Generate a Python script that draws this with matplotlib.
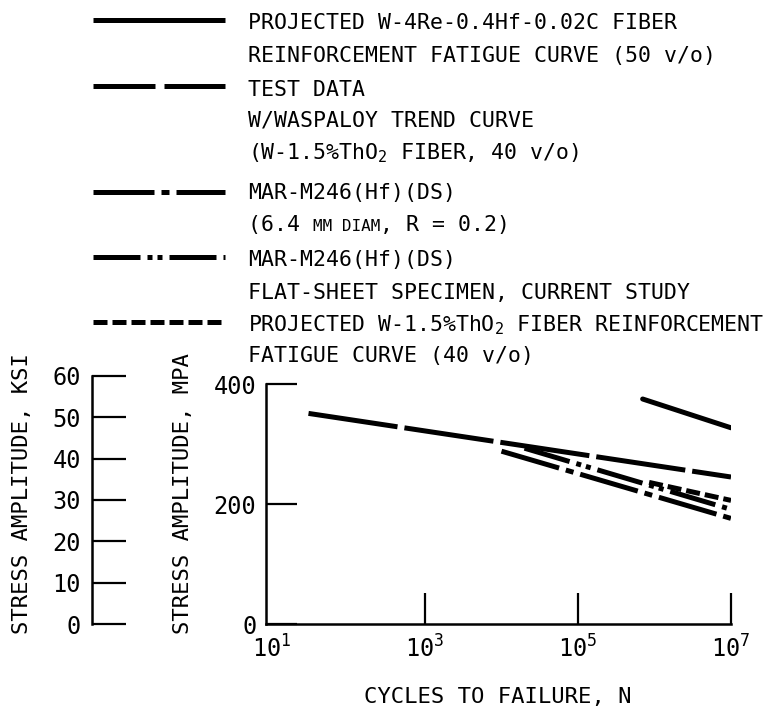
import matplotlib
matplotlib.use('Agg')
import matplotlib.pyplot as plt
from matplotlib.lines import Line2D

plt.rcParams['font.family'] = ['DejaVu Sans Mono', 'DejaVu Sans']
plt.rcParams['lines.scale_dashes'] = False

# ---------------- data ----------------
cycles_w4re = [7e5, 1e7]
stress_w4re = [375, 327]

cycles_trend = [30, 1e7]
stress_trend = [351, 245]

cycles_mar_rod = [1e4, 1e7]
stress_mar_rod = [288, 176]

cycles_mar_sheet = [2e4, 1e7]
stress_mar_sheet = [293, 191]

cycles_tho2 = [8.5e5, 1e7]
stress_tho2 = [236, 206]

x_ticks = [1e1, 1e3, 1e5, 1e7]
x_tick_labels = [r'$\mathregular{10^1}$', r'$\mathregular{10^3}$',
                 r'$\mathregular{10^5}$', r'$\mathregular{10^7}$']
mpa_ticks = [0, 200, 400]
ksi_ticks = [0, 10, 20, 30, 40, 50, 60]

legend_1 = ['PROJECTED W-4Re-0.4Hf-0.02C FIBER',
            'REINFORCEMENT FATIGUE CURVE (50 v/o)']
legend_2 = ['TEST DATA', 'W/WASPALOY TREND CURVE',
            r'(W-1.5%ThO$\mathregular{_2}$ FIBER, 40 v/o)']
legend_3 = ['MAR-M246(Hf)(DS)']
legend_3b = ['(6.4 ', 'MM DIAM', ', R = 0.2)']
legend_4 = ['MAR-M246(Hf)(DS)', 'FLAT-SHEET SPECIMEN, CURRENT STUDY']
legend_5 = [r'PROJECTED W-1.5%ThO$\mathregular{_2}$ FIBER REINFORCEMENT',
            'FATIGUE CURVE (40 v/o)']

KSI_TO_MPA = 6.895

# ---------------- layout ----------------
W, H = 764, 714
fig = plt.figure(figsize=(W / 100, H / 100), dpi=100)
PT = 0.72  # px -> pt


def fx(x):
    return x / W


def fy(y):
    return 1 - y / H


def dash(*px):
    return (0, tuple(p * PT for p in px))


FS = 15.5
TFS = 17
LW = 5 * PT

ax_left, ax_right = 266, 731
ax_bot, ax_top = 624, 384
ax = fig.add_axes([fx(ax_left), fy(ax_bot), (ax_right - ax_left) / W, (ax_bot - ax_top) / H])
ax.set_xscale('log')
ax.set_xlim(10 ** (1 - 6 / 76.5), 1e7)
ax.set_ylim(0, 400)
for s in ['top', 'right']:
    ax.spines[s].set_visible(False)
for s in ['left', 'bottom']:
    ax.spines[s].set_linewidth(1.8)
ax.set_xticks(x_ticks)
ax.set_xticklabels(x_tick_labels)
ax.xaxis.set_minor_locator(matplotlib.ticker.NullLocator())
ax.set_yticks(mpa_ticks)
ax.tick_params(axis='both', direction='in', length=31 * PT, width=1.6,
               labelsize=TFS, colors='black')
ax.tick_params(axis='x', pad=8)
ax.tick_params(axis='y', pad=7)
ax.xaxis.get_major_ticks()[0].tick1line.set_visible(False)

# data lines
ax.plot(cycles_w4re, stress_w4re, color='black', lw=LW, solid_capstyle='round')
ax.plot(cycles_trend, stress_trend, color='black', lw=LW, linestyle=dash(90, 7),
        dash_capstyle='butt')
ax.plot(cycles_mar_rod, stress_mar_rod, color='black', lw=LW,
        linestyle=dash(60, 7, 8, 7), dash_capstyle='butt')
ax.plot(cycles_mar_sheet, stress_mar_sheet, color='black', lw=LW,
        linestyle=dash(47, 7, 5, 5, 5, 7), dash_capstyle='butt')
ax.plot(cycles_tho2, stress_tho2, color='black', lw=LW, linestyle=dash(14, 5),
        dash_capstyle='butt')

# ksi axis
ksi_top = ax_bot - 60 * KSI_TO_MPA * 0.6
ax2 = fig.add_axes([fx(92), fy(ax_bot), 40 / W, (ax_bot - ksi_top) / H])
ax2.set_ylim(0, 60)
ax2.set_yticks(ksi_ticks)
ax2.set_xticks([])
for s in ['top', 'right', 'bottom']:
    ax2.spines[s].set_visible(False)
ax2.spines['left'].set_linewidth(1.8)
ax2.patch.set_visible(False)
ax2.tick_params(axis='y', direction='in', length=34 * PT, width=1.6,
                labelsize=TFS, pad=8)

# axis labels
fig.text(fx(22), fy(634), 'STRESS AMPLITUDE, KSI', rotation=90, ha='center',
         va='bottom', fontsize=FS + 0.5)
fig.text(fx(183), fy(634), 'STRESS AMPLITUDE, MPA', rotation=90, ha='center',
         va='bottom', fontsize=FS + 0.5)
fig.text(fx(498), fy(697), 'CYCLES TO FAILURE, N', ha='center', va='center',
         fontsize=FS + 0.5)

# ---------------- legend ----------------
TX = 248
BASE = 8


def put_lines(lines, ys):
    for t, y in zip(lines, ys):
        fig.text(fx(TX), fy(y + BASE), t, ha='left', va='baseline', fontsize=FS)


def sample(y, ls, capstyle='butt'):
    ln = Line2D([fx(93), fx(225)], [fy(y), fy(y)], transform=fig.transFigure,
                color='black', lw=LW, linestyle=ls)
    ln.set_dash_capstyle(capstyle)
    ln.set_solid_capstyle('butt')
    fig.add_artist(ln)


put_lines(legend_1, [21, 54])
sample(20, '-')
put_lines(legend_2, [88, 119, 151])
sample(86, dash(62, 9))
put_lines(legend_3, [191])
# second line of entry 3 with small caps
adv = FS * 100 / 72 * 0.602
small = 11.5
adv_s = small * 100 / 72 * 0.602
x0 = TX
yb = fy(223 + BASE)
fig.text(fx(x0), yb, legend_3b[0], ha='left', va='baseline', fontsize=FS)
x1 = x0 + len(legend_3b[0]) * adv
fig.text(fx(x1), yb, legend_3b[1], ha='left', va='baseline', fontsize=small)
x2 = x1 + len(legend_3b[1]) * adv_s
fig.text(fx(x2), yb, legend_3b[2], ha='left', va='baseline', fontsize=FS)
sample(192, dash(61, 7, 8, 7))
put_lines(legend_4, [258, 291])
sample(257, dash(47, 7, 5, 5, 5, 7))
put_lines(legend_5, [323, 354])
sample(322, dash(14, 5))

fig.savefig('out.png', dpi=100)
